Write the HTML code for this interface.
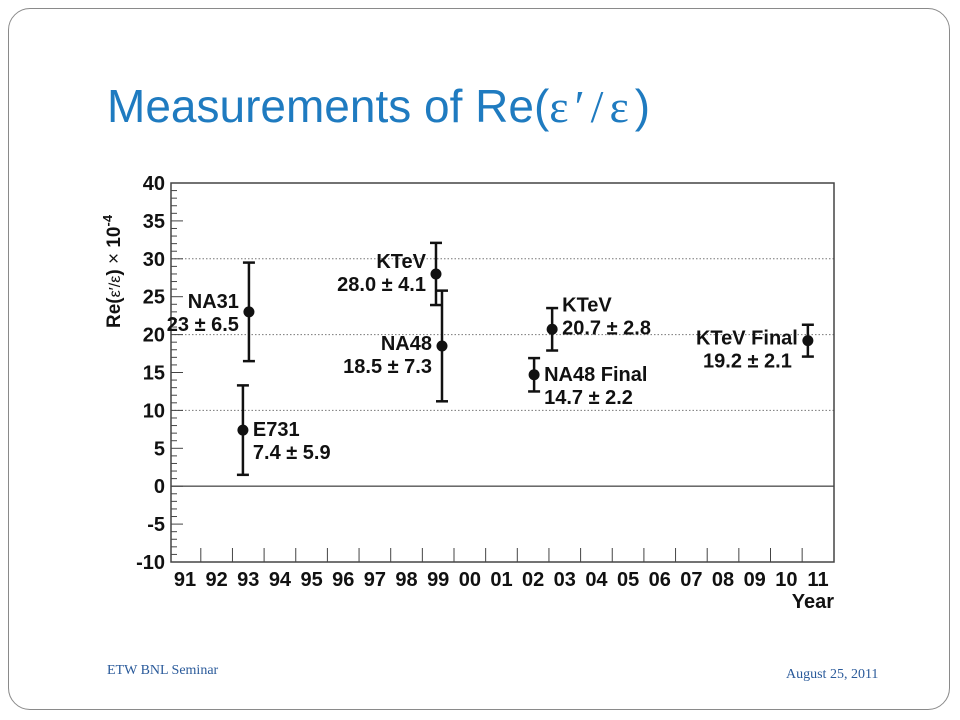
<!DOCTYPE html>
<html><head><meta charset="utf-8"><style>
body{margin:0;background:#fff;width:960px;height:720px;overflow:hidden;position:relative;font-family:"Liberation Sans",sans-serif}
#frame{position:absolute;left:8px;top:8px;width:942px;height:702px;border:1.5px solid #8a8a8a;border-radius:22px;box-sizing:border-box}
#title{position:absolute;left:107px;top:79px;font-size:46px;color:#1f7bc0;white-space:nowrap}
.foot{position:absolute;font-family:"Liberation Serif",serif;font-size:14px;color:#2a5a9a}
svg{position:absolute;left:0;top:0}
svg text{font-family:"Liberation Sans Narrow","Liberation Sans",sans-serif;font-weight:bold;fill:#111}
</style></head><body>
<div id="frame"></div>
<div id="title">Measurements of Re(<span style="font-family:'Liberation Serif',serif;letter-spacing:6px">ε′/ε</span>)</div>
<div class="foot" style="left:107px;top:663px">ETW BNL Seminar</div>
<div class="foot" style="left:786px;top:667px">August 25, 2011</div>
<svg id="chart" width="960" height="720"></svg>
<script>
const yearLabels=["91","92","93","94","95","96","97","98","99","00","01","02","03","04","05","06","07","08","09","10","11"];
const yTicks=[40,35,30,25,20,15,10,5,0,-5,-10];
const gridValues=[30,20,10];
const names=["NA31","E731","KTeV","NA48","NA48 Final","KTeV","KTeV Final"];
const years=[1993.02,1992.83,1998.93,1999.12,2002.03,2002.6,2010.68];
const values=[23,7.4,28.0,18.5,14.7,20.7,19.2];
const errors=[6.5,5.9,4.1,7.3,2.2,2.8,2.1];
const valueLabels=["23 ± 6.5","7.4 ± 5.9","28.0 ± 4.1","18.5 ± 7.3","14.7 ± 2.2","20.7 ± 2.8","19.2 ± 2.1"];
const labelSide=["left","right","left","left","right","right","left"];
const labelNameOffset=[-4,6,-6,4,6,-18,4];

const L=171,R=834,T=183,B=562;
const X=y=>185+(y-1991)*31.65;
const Y=v=>T+(40-v)*(B-T)/50;
const svg=document.getElementById('chart');
const NS='http://www.w3.org/2000/svg';
function el(tag,attrs,txt){const e=document.createElementNS(NS,tag);for(const k in attrs)e.setAttribute(k,attrs[k]);if(txt!==undefined)e.textContent=txt;svg.appendChild(e);return e;}

gridValues.forEach(v=>{const g=el('line',{x1:L,x2:R,y1:Y(v),y2:Y(v),stroke:'#777','stroke-dasharray':'1.5,2','stroke-width':1});

});
const z=el('line',{x1:L,x2:R,y1:Y(0),y2:Y(0),stroke:'#555','stroke-width':1.3});


const fr=el('rect',{x:L,y:T,width:R-L,height:B-T,fill:'none',stroke:'#444','stroke-width':1.5});


for(let v=-10;v<=40;v++){const len=v%5===0?12:6;const t=el('line',{x1:L,x2:L+len,y1:Y(v),y2:Y(v),stroke:'#444','stroke-width':1});

}
yTicks.forEach(v=>{const t=el('text',{x:L-6,y:Y(v)+7,'text-anchor':'end','font-size':20},String(v));

});
yearLabels.forEach((s,i)=>{const x=X(1991+i);
if(i<yearLabels.length-1){const t=el('line',{x1:x+15.8,x2:x+15.8,y1:B,y2:B-14,stroke:'#444','stroke-width':1});

}
const lb=el('text',{x:x,y:B+24,'text-anchor':'middle','font-size':20},s);

});
const xt=el('text',{x:R,y:B+46,'text-anchor':'end','font-size':20},'Year');


const yt=el('text',{x:0,y:0,'font-size':19,transform:'translate(120,328) rotate(-90)'},'');
yt.innerHTML='Re(<tspan font-weight="normal" font-size="16">ε′/ε</tspan>)     <tspan font-weight="normal">×</tspan> 10<tspan dy="-8" font-size="13">-4</tspan>';



names.forEach((n,i)=>{const x=X(years[i]),y=Y(values[i]),y1=Y(values[i]+errors[i]),y2=Y(values[i]-errors[i]);
const g=document.createElementNS(NS,'g');svg.appendChild(g);


[[x,x,y1,y2],[x-6,x+6,y1,y1],[x-6,x+6,y2,y2]].forEach(a=>{const l=document.createElementNS(NS,'line');
l.setAttribute('x1',a[0]);l.setAttribute('x2',a[1]);l.setAttribute('y1',a[2]);l.setAttribute('y2',a[3]);
l.setAttribute('stroke','#111');l.setAttribute('stroke-width',2.5);g.appendChild(l);});
const c=document.createElementNS(NS,'circle');c.setAttribute('cx',x);c.setAttribute('cy',y);c.setAttribute('r',5.5);c.setAttribute('fill','#111');g.appendChild(c);
const left=labelSide[i]==='left';const tx=left?x-10:x+10;const anch=left?'end':'start';
const ny=y+labelNameOffset[i];
const t1=el('text',{x:tx,y:ny,'text-anchor':anch,'font-size':20},n);


const t2=el('text',{x:tx+(left&&i===6?-6:0),y:ny+23,'text-anchor':anch,'font-size':20},valueLabels[i]);

});
</script>
</body></html>
